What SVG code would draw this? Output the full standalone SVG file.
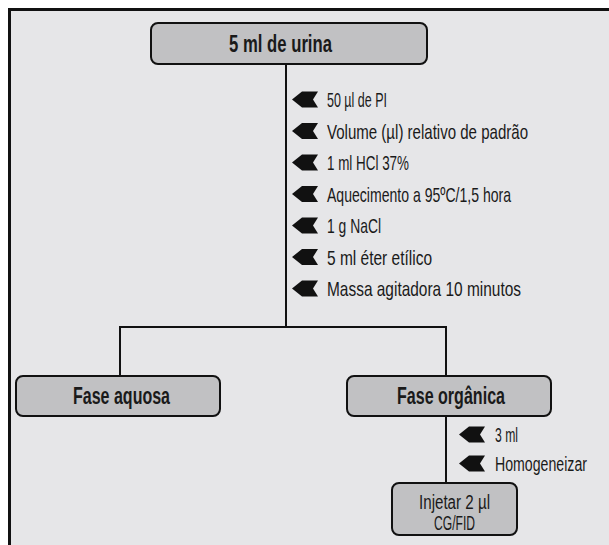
<svg xmlns="http://www.w3.org/2000/svg" width="609" height="545" viewBox="0 0 609 545">
<defs>
<style>
.box{fill:#c1c1c3;stroke:#111;stroke-width:2}
.ln{fill:none;stroke:#111;stroke-width:2}
.t{font-family:"Liberation Sans",Arial,sans-serif;font-size:21px;fill:#1a1a1a}
.s{font-size:20px}
.b{font-family:"Liberation Sans",Arial,sans-serif;font-size:23px;font-weight:bold;fill:#1a1a1a;text-anchor:middle}
.c{text-anchor:middle}
.arr{fill:#111}
</style>
<polygon id="ar" points="0,8 10,0 26,0 21,8 26,16 10,16"/>
</defs>
<rect x="0" y="0" width="609" height="545" fill="#ffffff"/>
<rect x="9.5" y="9.5" width="600" height="540" fill="#e6e6e8"/>
<path d="M9.5,545 V9.5 H609" fill="none" stroke="#111" stroke-width="3"/>
<g id="connectors">
<path class="ln" d="M286,64 V327"/>
<path class="ln" d="M120,376 V327 H446 V376"/>
<path class="ln" d="M446,416 V483"/>
<g class="arr">
<use href="#ar" x="292" y="91.5"/>
<use href="#ar" x="292" y="123"/>
<use href="#ar" x="292" y="154.5"/>
<use href="#ar" x="292" y="186"/>
<use href="#ar" x="292" y="217.5"/>
<use href="#ar" x="292" y="249"/>
<use href="#ar" x="292" y="280.5"/>
<use href="#ar" x="459" y="426.5"/>
<use href="#ar" x="459" y="455.5"/>
</g>
<g id="labels">
<text class="t" x="327" y="107" textLength="60" lengthAdjust="spacingAndGlyphs">50 µl de PI</text>
<text class="t" x="327" y="138.5" textLength="201" lengthAdjust="spacingAndGlyphs">Volume (µl) relativo de padrão</text>
<text class="t" x="327" y="170" textLength="82" lengthAdjust="spacingAndGlyphs">1 ml HCl 37%</text>
<text class="t" x="327" y="201.5" textLength="184" lengthAdjust="spacingAndGlyphs">Aquecimento a 95ºC/1,5 hora</text>
<text class="t" x="327" y="233" textLength="54" lengthAdjust="spacingAndGlyphs">1 g NaCl</text>
<text class="t" x="327" y="264.5" textLength="105" lengthAdjust="spacingAndGlyphs">5 ml éter etílico</text>
<text class="t" x="327" y="296" textLength="194" lengthAdjust="spacingAndGlyphs">Massa agitadora 10 minutos</text>
<text class="t" x="495" y="442" textLength="23" lengthAdjust="spacingAndGlyphs">3 ml</text>
<text class="t" transform="translate(495,471) scale(0.674,1)">Homogeneizar</text>
</g>
</g>
<g id="urina">
<rect class="box" x="151" y="23" width="276" height="41" rx="7"/>
<text class="b" x="280.5" y="52" textLength="103" lengthAdjust="spacingAndGlyphs">5 ml de urina</text>
</g>
<g id="aquosa">
<rect class="box" x="16" y="376" width="204" height="40" rx="7"/>
<text class="b" x="121.5" y="404" textLength="97" lengthAdjust="spacingAndGlyphs">Fase aquosa</text>
</g>
<g id="organica">
<rect class="box" x="347" y="376" width="204" height="40" rx="7"/>
<text class="b" x="451" y="404" textLength="108" lengthAdjust="spacingAndGlyphs">Fase orgânica</text>
</g>
<g id="injetar">
<rect class="box" x="392" y="483" width="125" height="52" rx="7"/>
<text class="t s c" x="454.5" y="509" textLength="71" lengthAdjust="spacingAndGlyphs">Injetar 2 µl</text>
<text class="t s c" x="454.5" y="530" textLength="41" lengthAdjust="spacingAndGlyphs">CG/FID</text>
</g>
</svg>
